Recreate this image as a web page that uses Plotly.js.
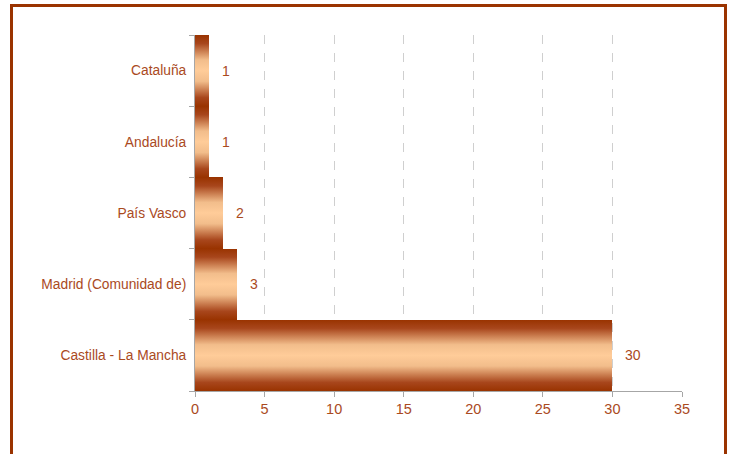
<!DOCTYPE html>
<html>
<head>
<meta charset="utf-8">
<script src="https://cdn.plot.ly/plotly-3.0.1.min.js"></script>
<style>
  html, body { margin: 0; padding: 0; background: #fff; }
  #wrap { position: relative; width: 734px; height: 454px; overflow: hidden; }
  #chart { position: absolute; left: 0; top: 0; width: 734px; height: 454px; }
  #frame { position: absolute; left: 10px; top: 4px; width: 711px; height: 470px;
           border: 3px solid #9a3300; pointer-events: none; }
</style>
</head>
<body>
<div id="wrap">
  <div id="chart"></div>
  <div id="frame"></div>
</div>
<script>
const categories = ["Castilla - La Mancha", "Madrid (Comunidad de)", "País Vasco", "Andalucía", "Cataluña"];
const values = [30, 3, 2, 1, 1];
const xTicks = [0, 5, 10, 15, 20, 25, 30, 35];

const textColor = "#aa4a1e";

const trace = {
  type: "bar",
  orientation: "h",
  y: categories,
  x: values,
  marker: { color: "#f0b888", line: { width: 0 } },
  hoverinfo: "none"
};

const annotations = values.map((v, i) => ({
  x: v, y: categories[i], xref: "x", yref: "y",
  text: String(v), showarrow: false, xanchor: "left", xshift: 11,
  font: { family: "Liberation Sans, Arial, sans-serif", size: 14, color: textColor }
}));

const layout = {
  width: 734, height: 454,
  margin: { l: 195, r: 52, t: 35, b: 63 },
  paper_bgcolor: "#ffffff",
  plot_bgcolor: "#ffffff",
  showlegend: false,
  bargap: 0,
  font: { family: "Liberation Sans, Arial, sans-serif", size: 13, color: textColor },
  xaxis: {
    range: [0, 35],
    tickvals: xTicks,
    ticktext: xTicks.map(String),
    showgrid: true, gridcolor: "#cfcfcf", griddash: "dash", gridwidth: 1,
    zeroline: false,
    showline: true, linecolor: "#a6a6a6", linewidth: 1,
    ticks: "outside", ticklen: 5, tickcolor: "#a6a6a6",
    tickfont: { size: 14.5, color: textColor },
    fixedrange: true
  },
  yaxis: {
    type: "category",
    categoryorder: "array", categoryarray: categories,
    tickson: "boundaries",
    ticks: "outside", ticklen: 5, tickcolor: "#a6a6a6",
    showline: true, linecolor: "#a6a6a6", linewidth: 1,
    showgrid: false, zeroline: false,
    tickfont: { size: 13.8, color: textColor },
    ticklabelstandoff: 5,
    fixedrange: true
  },
  annotations: annotations
};

Plotly.newPlot("chart", [trace], layout, { staticPlot: true, displayModeBar: false }).then(function (gd) {
  const svgNS = "http://www.w3.org/2000/svg";
  const svg = gd.querySelector("svg.main-svg");
  let defs = svg.querySelector("defs");
  if (!defs) { defs = document.createElementNS(svgNS, "defs"); svg.insertBefore(defs, svg.firstChild); }
  const grad = document.createElementNS(svgNS, "linearGradient");
  grad.setAttribute("id", "barGrad");
  grad.setAttribute("x1", "0"); grad.setAttribute("y1", "0");
  grad.setAttribute("x2", "0"); grad.setAttribute("y2", "1");
  const stops = [[0, "#993300"], [0.12, "#a8461c"], [0.35, "#f2bd8b"], [0.5, "#ffcc99"], [0.65, "#f2bd8b"], [0.88, "#a8461c"], [1, "#993300"]];
  stops.forEach(function (s) {
    const st = document.createElementNS(svgNS, "stop");
    st.setAttribute("offset", s[0]);
    st.setAttribute("stop-color", s[1]);
    grad.appendChild(st);
  });
  defs.appendChild(grad);
  gd.querySelectorAll(".bars .point path").forEach(function (p) {
    p.style.fill = "url(#barGrad)";
  });
});
</script>
</body>
</html>
